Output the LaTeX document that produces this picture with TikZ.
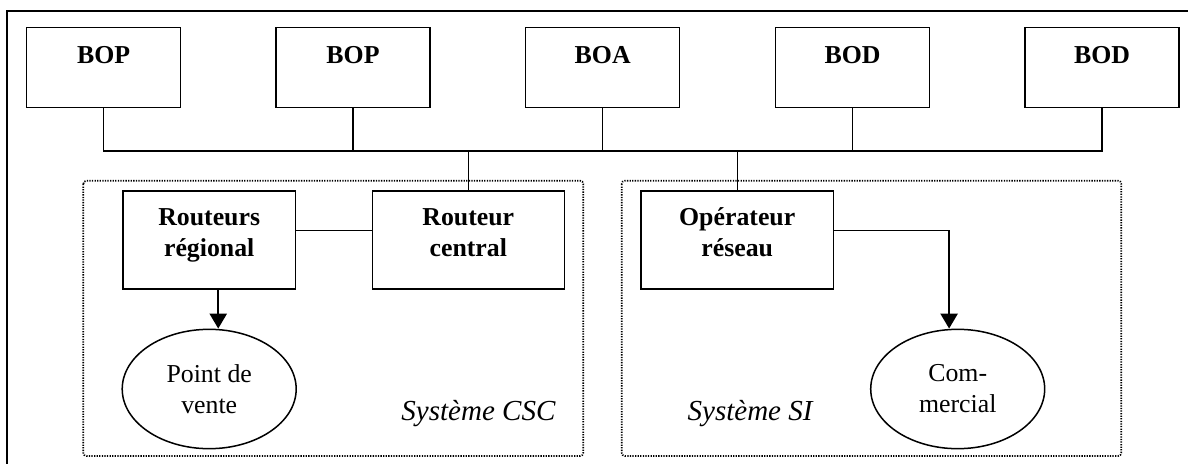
\documentclass[tikz,border=0pt]{standalone}
\usepackage{fontspec}
\setmainfont{Liberation Serif}
\usetikzlibrary{shapes.geometric}
\usetikzlibrary{arrows.meta}

\begin{document}
\begin{tikzpicture}[x=0.465pt,y=-0.465pt,font=\fontsize{12}{14.4}\selectfont]
	\tikzstyle{bo}=[rectangle,draw=black,line width=0.7pt,minimum width=71.6pt,minimum height=37.2pt,inner sep=0pt,text height=8pt,text depth=11.8pt,font=\fontsize{12}{14.4}\selectfont\bfseries]
	\tikzstyle{routeur}=[rectangle,draw=black,line width=0.7pt,minimum height=45.8pt,inner sep=0pt,align=center,text height=18pt,text depth=2.4pt,font=\fontsize{12}{14.4}\selectfont\bfseries]
	\tikzstyle{poste}=[ellipse,draw=black,line width=0.7pt,minimum width=80.9pt,minimum height=55.5pt,inner sep=0pt,align=center]
	\tikzstyle{systeme}=[draw=black,line width=0.8pt,dash pattern=on 0.6pt off 0.6pt,rounded corners=1.5pt]
	\tikzstyle{nomsys}=[font=\fontsize{13.5}{16}\selectfont\itshape]
	\tikzstyle{link}=[draw=black,line width=0.6pt]
	\tikzstyle{fleche}=[draw=black,line width=1pt,-{Triangle[length=7pt,width=8pt]}]

	\useasboundingbox (0,0) rectangle (1188,464);
	\draw[line width=0.8pt] (7,11) rectangle (1200,480);

	% the two systems
	\draw[systeme] (83.3,180.7) rectangle (583.3,456);
	\draw[systeme] (621.7,180.7) rectangle (1121.3,456);

	\node [bo] (bop1) at (103.7,67.7) {BOP};
	\node [bo] (bop2) at (353,67.7) {BOP};
	\node [bo] (boa) at (602.7,67.7) {BOA};
	\node [bo] (bod1) at (852.5,67.7) {BOD};
	\node [bo] (bod2) at (1102,67.7) {BOD};

	\node [routeur,minimum width=80.4pt] (rreg) at (209.2,240) {Routeurs\\régional};
	\node [routeur,minimum width=89.3pt] (rcen) at (468.3,240) {Routeur\\central};
	\node [routeur,minimum width=89.4pt] (oper) at (737.2,240) {Opérateur\\réseau};

	\node [poste] (pdv) at (209.2,389) {Point de\\vente};
	\node [poste] (com) at (957.7,389) {Com-\\mercial};

	\node [nomsys,anchor=base east] (csc) at (563,420) {Système CSC};
	\node [nomsys,anchor=base west] (si) at (680,420) {Système SI};

	% bus
	\coordinate (bus) at (0,151);
	\path[link] (bop1.south) -- (bop1.south |- bus) -- (bod2.south |- bus) -- (bod2.south);
	\foreach \n in {bop2,boa,bod1}
		\path[link] (\n.south) -- (\n.south |- bus);
	\path[link] (rcen.north) -- (rcen.north |- bus);
	\path[link] (oper.north) -- (oper.north |- bus);

	\path[link] ([yshift=4.5pt]rreg.east) -- ([yshift=4.5pt]rcen.west);
	\path[fleche] ([xshift=4.2pt]rreg.south) -- ([xshift=4.2pt]rreg.south |- pdv.north);

	\coordinate (operout) at ([yshift=4.5pt]oper.east);
	\coordinate (comin) at ([xshift=-4pt]com.north);
	\path[link] (operout) -- (operout -| comin);
	\path[fleche] (operout -| comin) -- (comin);
\end{tikzpicture}
\end{document}
